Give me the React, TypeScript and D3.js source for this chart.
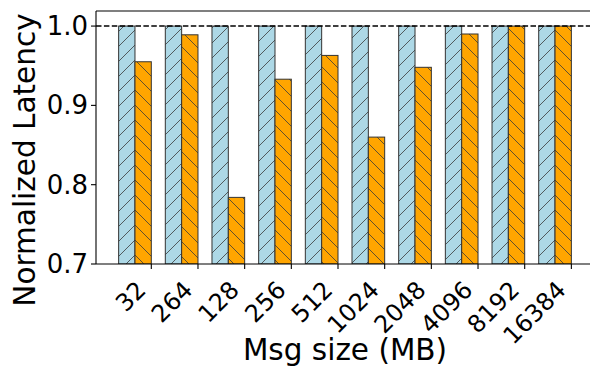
import React from "react";
import * as d3 from "d3";

const categories = ["32", "264", "128", "256", "512", "1024", "2048", "4096", "8192", "16384"];
const baselineValues = [1, 1, 1, 1, 1, 1, 1, 1, 1, 1];
const optimizedValues = [0.955, 0.989, 0.784, 0.933, 0.963, 0.86, 0.948, 0.99, 1.0, 1.0];
const yTicks = [0.7, 0.8, 0.9, 1.0];
const referenceLine = 1.0;

const W = 590;
const H = 367;
const left = 96;
const right = 594;
const top = 11;
const bottom = 264;
const barW = 0.35;

export default function App() {
  const n = categories.length;
  const dataMax = n - 1 + 2 * barW;
  const margin = dataMax * 0.05;
  const x = d3.scaleLinear().domain([-margin, dataMax + margin]).range([left, right]);
  const y = d3.scaleLinear().domain([0.7, 1.019]).range([bottom, top]);
  const edge = "#333";
  const yTickFont = 26;
  const xTickFont = 24;
  const labelFont = 29.5;
  const font = "DejaVu Sans";
  const p = 15;

  return (
    <svg
      width={W}
      height={H}
      style={{ position: "absolute", left: 0, top: 0, background: "#fff" }}
      fontFamily={font}
    >
      <defs>
        <pattern id="hatchFwd" patternUnits="userSpaceOnUse" width={p} height={p}>
          <rect width={p} height={p} fill="#add8e6" />
          <path d={`M0,${p} L${p},0 M-2,2 L2,-2 M${p - 2},${p + 2} L${p + 2},${p - 2}`} stroke="#3a3a3a" strokeWidth={0.8} />
        </pattern>
        <pattern id="hatchBack" patternUnits="userSpaceOnUse" width={p} height={p}>
          <rect width={p} height={p} fill="#ffa500" />
          <path d={`M0,0 L${p},${p} M-2,${p - 2} L2,${p + 2} M${p - 2},-2 L${p + 2},2`} stroke="#3a3a3a" strokeWidth={0.8} />
        </pattern>
        <clipPath id="axclip">
          <rect x={left} y={top} width={right - left} height={bottom - top} />
        </clipPath>
      </defs>
      <rect width={W} height={H} fill="#fff" />
      <g clipPath="url(#axclip)">
        {categories.map((c, i) => (
          <g key={c}>
            <rect
              x={x(i)}
              y={y(baselineValues[i])}
              width={x(i + barW) - x(i)}
              height={y(0.7) - y(baselineValues[i])}
              fill="url(#hatchFwd)"
              stroke={edge}
              strokeWidth={1}
            />
            <rect
              x={x(i + barW)}
              y={y(optimizedValues[i])}
              width={x(i + 2 * barW) - x(i + barW)}
              height={y(0.7) - y(optimizedValues[i])}
              fill="url(#hatchBack)"
              stroke={edge}
              strokeWidth={1}
            />
          </g>
        ))}
        <line
          x1={left}
          x2={right}
          y1={y(referenceLine)}
          y2={y(referenceLine)}
          stroke="#000"
          strokeWidth={1.5}
          strokeDasharray="5.5,2.4"
        />
      </g>
      <line x1={left} x2={left} y1={top} y2={bottom} stroke="#000" strokeWidth={1.1} />
      <line x1={left} x2={right} y1={bottom} y2={bottom} stroke="#000" strokeWidth={1.1} />
      <line x1={left} x2={right} y1={top} y2={top} stroke="#000" strokeWidth={1.1} />
      {yTicks.map((t) => (
        <g key={t}>
          <line x1={left - 5} x2={left} y1={y(t)} y2={y(t)} stroke="#000" strokeWidth={1.1} />
          <text
            x={left - 8}
            y={y(t)}
            textAnchor="end"
            dominantBaseline="central"
            fontSize={yTickFont}
            fill="#000"
          >
            {t.toFixed(1)}
          </text>
        </g>
      ))}
      {categories.map((c, i) => {
        const tx = x(i + 2 * barW);
        return (
          <g key={c}>
            <line x1={tx} x2={tx} y1={bottom} y2={bottom + 5} stroke="#000" strokeWidth={1.1} />
            <text
              transform={`translate(${tx - 4},${291.5}) rotate(-45)`}
              textAnchor="end"
              fontSize={xTickFont}
              fill="#000"
            >
              {c}
            </text>
          </g>
        );
      })}
      <text
        x={(left + right) / 2}
        y={360}
        textAnchor="middle"
        fontSize={labelFont}
        fill="#000"
      >
        Msg size (MB)
      </text>
      <text
        transform={`translate(35,160) rotate(-90)`}
        textAnchor="middle"
        fontSize={labelFont}
        fill="#000"
      >
        Normalized Latency
      </text>
    </svg>
  );
}
